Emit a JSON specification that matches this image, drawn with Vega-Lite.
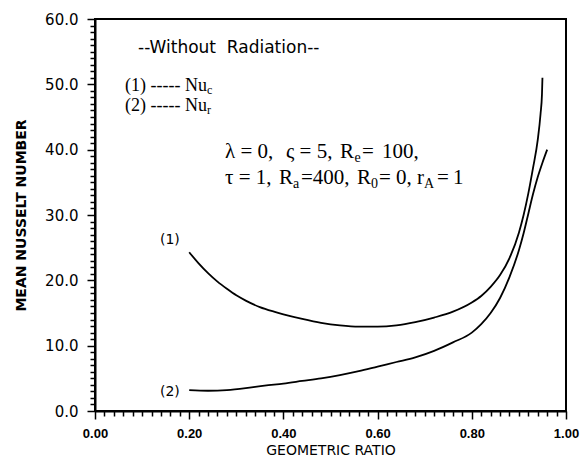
{
  "$schema": "https://vega.github.io/schema/vega-lite/v6.json",
  "width": 471,
  "height": 392,
  "autosize": {"type": "none"},
  "padding": {"left": 95, "top": 19, "right": 14, "bottom": 49},
  "background": "white",
  "config": {
    "view": {"stroke": "black", "strokeWidth": 2},
    "axis": {"domainColor": "black", "domainWidth": 2, "tickColor": "black", "tickWidth": 1.5, "grid": false, "labelColor": "black", "titleColor": "black"}
  },
  "datasets": {
    "curves": [
      {"ratio": 0.20, "nu": 24.3, "curve": "1"},
      {"ratio": 0.22, "nu": 22.6, "curve": "1"},
      {"ratio": 0.24, "nu": 21.1, "curve": "1"},
      {"ratio": 0.26, "nu": 19.8, "curve": "1"},
      {"ratio": 0.28, "nu": 18.7, "curve": "1"},
      {"ratio": 0.30, "nu": 17.7, "curve": "1"},
      {"ratio": 0.32, "nu": 16.9, "curve": "1"},
      {"ratio": 0.35, "nu": 15.9, "curve": "1"},
      {"ratio": 0.38, "nu": 15.2, "curve": "1"},
      {"ratio": 0.40, "nu": 14.8, "curve": "1"},
      {"ratio": 0.44, "nu": 14.1, "curve": "1"},
      {"ratio": 0.48, "nu": 13.5, "curve": "1"},
      {"ratio": 0.52, "nu": 13.1, "curve": "1"},
      {"ratio": 0.56, "nu": 12.9, "curve": "1"},
      {"ratio": 0.60, "nu": 12.9, "curve": "1"},
      {"ratio": 0.64, "nu": 13.1, "curve": "1"},
      {"ratio": 0.68, "nu": 13.6, "curve": "1"},
      {"ratio": 0.72, "nu": 14.3, "curve": "1"},
      {"ratio": 0.76, "nu": 15.2, "curve": "1"},
      {"ratio": 0.80, "nu": 16.6, "curve": "1"},
      {"ratio": 0.82, "nu": 17.6, "curve": "1"},
      {"ratio": 0.84, "nu": 19.0, "curve": "1"},
      {"ratio": 0.86, "nu": 20.8, "curve": "1"},
      {"ratio": 0.88, "nu": 23.4, "curve": "1"},
      {"ratio": 0.90, "nu": 27.3, "curve": "1"},
      {"ratio": 0.91, "nu": 30.0, "curve": "1"},
      {"ratio": 0.92, "nu": 33.3, "curve": "1"},
      {"ratio": 0.93, "nu": 37.2, "curve": "1"},
      {"ratio": 0.94, "nu": 41.5, "curve": "1"},
      {"ratio": 0.946, "nu": 45.5, "curve": "1"},
      {"ratio": 0.949, "nu": 48.5, "curve": "1"},
      {"ratio": 0.950, "nu": 51.0, "curve": "1"},
      {"ratio": 0.20, "nu": 3.2, "curve": "2"},
      {"ratio": 0.24, "nu": 3.1, "curve": "2"},
      {"ratio": 0.28, "nu": 3.2, "curve": "2"},
      {"ratio": 0.32, "nu": 3.5, "curve": "2"},
      {"ratio": 0.36, "nu": 3.9, "curve": "2"},
      {"ratio": 0.40, "nu": 4.2, "curve": "2"},
      {"ratio": 0.44, "nu": 4.6, "curve": "2"},
      {"ratio": 0.48, "nu": 5.0, "curve": "2"},
      {"ratio": 0.52, "nu": 5.5, "curve": "2"},
      {"ratio": 0.56, "nu": 6.1, "curve": "2"},
      {"ratio": 0.60, "nu": 6.8, "curve": "2"},
      {"ratio": 0.64, "nu": 7.5, "curve": "2"},
      {"ratio": 0.68, "nu": 8.2, "curve": "2"},
      {"ratio": 0.72, "nu": 9.2, "curve": "2"},
      {"ratio": 0.76, "nu": 10.5, "curve": "2"},
      {"ratio": 0.80, "nu": 12.0, "curve": "2"},
      {"ratio": 0.82, "nu": 13.3, "curve": "2"},
      {"ratio": 0.84, "nu": 15.0, "curve": "2"},
      {"ratio": 0.86, "nu": 17.3, "curve": "2"},
      {"ratio": 0.88, "nu": 20.5, "curve": "2"},
      {"ratio": 0.90, "nu": 24.6, "curve": "2"},
      {"ratio": 0.91, "nu": 27.2, "curve": "2"},
      {"ratio": 0.92, "nu": 30.2, "curve": "2"},
      {"ratio": 0.93, "nu": 33.2, "curve": "2"},
      {"ratio": 0.94, "nu": 35.8, "curve": "2"},
      {"ratio": 0.95, "nu": 38.0, "curve": "2"},
      {"ratio": 0.96, "nu": 40.0, "curve": "2"}
    ],
    "curveLabels": [
      {"ratio": 0.159, "nu": 26.2, "text": "(1)"},
      {"ratio": 0.159, "nu": 2.86, "text": "(2)"}
    ],
    "heading": [
      {"ratio": 0.0913, "nu": 54.8, "text": "--Without\u00a0 Radiation--"}
    ],
    "legendMain": [
      {"ratio": 0.0637, "nu": 48.98, "text": "(1) ----- Nu"},
      {"ratio": 0.0637, "nu": 45.92, "text": "(2) ----- Nu"}
    ],
    "legendSub": [
      {"ratio": 0.2378, "nu": 48.98, "text": "c"},
      {"ratio": 0.2378, "nu": 45.92, "text": "r"}
    ],
    "paramMain": [
      {"ratio": 0.2760, "nu": 38.65, "text": "λ = 0,"},
      {"ratio": 0.4055, "nu": 38.65, "text": "ς = 5,"},
      {"ratio": 0.5202, "nu": 38.65, "text": "R"},
      {"ratio": 0.5669, "nu": 38.65, "text": "="},
      {"ratio": 0.6093, "nu": 38.65, "text": "100,"},
      {"ratio": 0.2760, "nu": 34.67, "text": "τ = 1,"},
      {"ratio": 0.3907, "nu": 34.67, "text": "R"},
      {"ratio": 0.4374, "nu": 34.67, "text": "=400,"},
      {"ratio": 0.5563, "nu": 34.67, "text": "R"},
      {"ratio": 0.6030, "nu": 34.67, "text": "= 0,"},
      {"ratio": 0.6837, "nu": 34.67, "text": "r"},
      {"ratio": 0.7261, "nu": 34.67, "text": "="},
      {"ratio": 0.7601, "nu": 34.67, "text": "1"}
    ],
    "paramSub": [
      {"ratio": 0.5510, "nu": 38.65, "text": "e"},
      {"ratio": 0.4204, "nu": 34.67, "text": "a"},
      {"ratio": 0.5860, "nu": 34.67, "text": "0"},
      {"ratio": 0.6985, "nu": 34.67, "text": "A"}
    ]
  },
  "encoding": {
    "x": {
      "field": "ratio", "type": "quantitative",
      "scale": {"domain": [0, 1], "nice": false},
      "axis": {
        "title": "GEOMETRIC RATIO",
        "titleFont": "DejaVu Sans", "titleFontSize": 14, "titleFontWeight": "normal", "titlePadding": 3,
        "values": [0,0.02,0.04,0.06,0.08,0.1,0.12,0.14,0.16,0.18,0.2,0.22,0.24,0.26,0.28,0.3,0.32,0.34,0.36,0.38,0.4,0.42,0.44,0.46,0.48,0.5,0.52,0.54,0.56,0.58,0.6,0.62,0.64,0.66,0.68,0.7,0.72,0.74,0.76,0.78,0.8,0.82,0.84,0.86,0.88,0.9,0.92,0.94,0.96,0.98,1],
        "labelExpr": "abs(datum.value * 5 - round(datum.value * 5)) < 1e-6 ? format(datum.value, '.2f') : ''",
        "tickSize": {"condition": {"test": "abs(datum.value * 5 - round(datum.value * 5)) < 1e-6", "value": 8}, "value": 5},
        "labelOverlap": false, "labelFlush": false, "labelBound": false,
        "labelFont": "Liberation Sans", "labelFontSize": 13, "labelFontWeight": "bold", "labelPadding": 8
      }
    },
    "y": {
      "field": "nu", "type": "quantitative",
      "scale": {"domain": [0, 60], "nice": false},
      "axis": {
        "title": "MEAN NUSSELT NUMBER",
        "titleFont": "DejaVu Sans", "titleFontSize": 14, "titleFontWeight": "bold", "titlePadding": 16,
        "values": [0,1,2,3,4,5,6,7,8,9,10,11,12,13,14,15,16,17,18,19,20,21,22,23,24,25,26,27,28,29,30,31,32,33,34,35,36,37,38,39,40,41,42,43,44,45,46,47,48,49,50,51,52,53,54,55,56,57,58,59,60],
        "labelExpr": "datum.value % 10 === 0 ? format(datum.value, '.1f') : ''",
        "tickSize": {"condition": {"test": "datum.value % 10 === 0", "value": 8}, "value": 5},
        "labelOverlap": false, "labelFlush": false, "labelBound": false,
        "labelFont": "DejaVu Sans", "labelFontSize": 15, "labelPadding": 9
      }
    }
  },
  "layer": [
    {
      "data": {"name": "curves"},
      "mark": {"type": "line", "color": "black", "strokeWidth": 1.8, "interpolate": "monotone"},
      "encoding": {"detail": {"field": "curve"}}
    },
    {
      "data": {"name": "curveLabels"},
      "mark": {"type": "text", "font": "DejaVu Sans", "fontSize": 14, "align": "center", "baseline": "middle", "color": "black"},
      "encoding": {"text": {"field": "text"}}
    },
    {
      "data": {"name": "heading"},
      "mark": {"type": "text", "font": "DejaVu Sans", "fontSize": 17, "align": "left", "baseline": "alphabetic", "color": "black"},
      "encoding": {"text": {"field": "text"}}
    },
    {
      "data": {"name": "legendMain"},
      "mark": {"type": "text", "font": "Liberation Serif", "fontSize": 18, "align": "left", "baseline": "alphabetic", "color": "black"},
      "encoding": {"text": {"field": "text"}}
    },
    {
      "data": {"name": "legendSub"},
      "mark": {"type": "text", "font": "Liberation Serif", "fontSize": 12, "align": "left", "baseline": "alphabetic", "dy": 3, "color": "black"},
      "encoding": {"text": {"field": "text"}}
    },
    {
      "data": {"name": "paramMain"},
      "mark": {"type": "text", "font": "Liberation Serif", "fontSize": 21, "align": "left", "baseline": "alphabetic", "color": "black"},
      "encoding": {"text": {"field": "text"}}
    },
    {
      "data": {"name": "paramSub"},
      "mark": {"type": "text", "font": "Liberation Serif", "fontSize": 14, "align": "left", "baseline": "alphabetic", "dy": 4, "color": "black"},
      "encoding": {"text": {"field": "text"}}
    }
  ]
}
